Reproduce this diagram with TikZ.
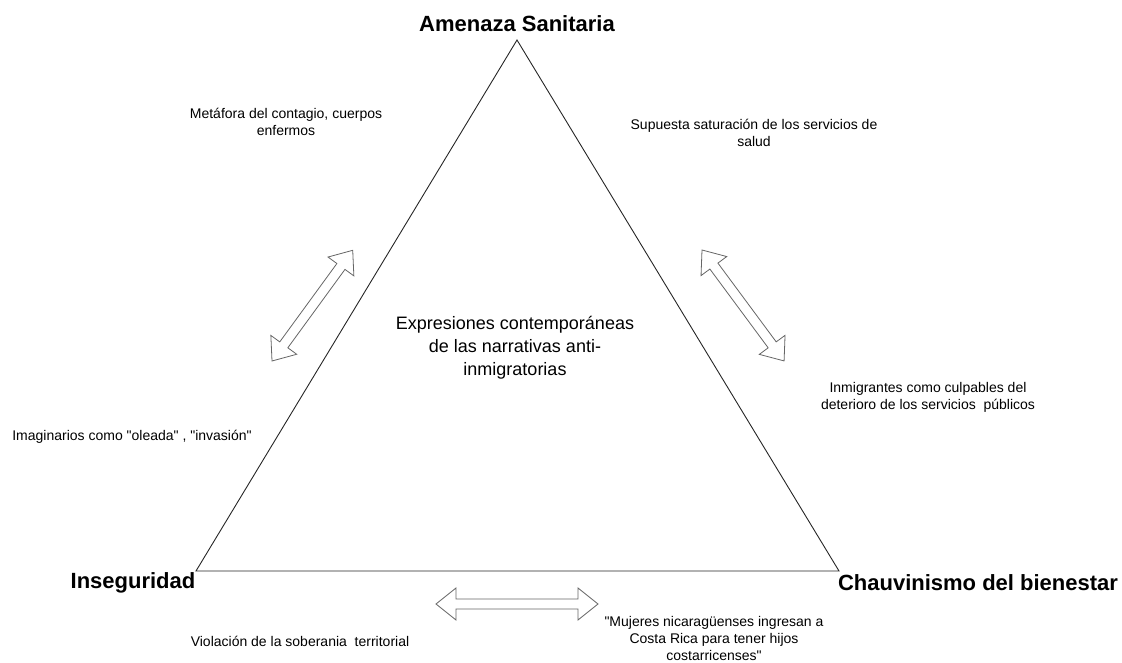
\documentclass[tikz,border=0pt]{standalone}
\usepackage{fontspec}
\setmainfont{Liberation Sans}
\usepackage{tikz}

\tikzset{
  vertice/.style={font=\fontsize{22}{26}\selectfont\bfseries, inner sep=0pt},
  centro/.style={font=\fontsize{18}{23}\selectfont, align=center, inner sep=0pt},
  nota/.style={font=\fontsize{14}{17}\selectfont, align=center, inner sep=0pt},
  flecha/.style={draw=black!60, fill=white, line width=0.8pt, line join=miter}
}
\newcommand{\qd}{\textquotedbl}

\begin{document}
\begin{tikzpicture}[x=1pt, y=-1pt]
\useasboundingbox (0,0) rectangle (1122,663);
\coordinate (vA) at (517,40);
\coordinate (vI) at (196,571);
\coordinate (vC) at (839,571);
\draw[line width=0.9pt, black!85] (vA) -- (vI) -- (vC) -- cycle;
\node[vertice] (amenaza) at (517,24) {Amenaza Sanitaria};
\node[vertice] (inseg) at (133,583) {Inseguridad};
\node[vertice] (chauv) at (978,583) {Chauvinismo del bienestar};
\node[centro] (expr) at (515,348) {Expresiones contempor\'aneas\\de las narrativas anti-\\inmigratorias};
% notas
\node[nota] (metafora) at (286,122) {Met\'afora del contagio, cuerpos\\enfermos};
\node[nota] (supuesta) at (754,133) {Supuesta saturaci\'on de los servicios de\\salud};
\node[nota] (inmig) at (928,397) {Inmigrantes como culpables del\\deterioro de los servicios\ \ p\'ublicos};
\node[nota] (imag) at (132,437) {Imaginarios como \qd oleada\qd\ , \qd invasi\'on\qd};
\node[nota] (violacion) at (300,641) {Violaci\'on de la soberania\ \ territorial};
\node[nota] (mujeres) at (714,638) {\qd Mujeres nicarag\"uenses ingresan a\\Costa Rica para tener hijos\\costarricenses\qd};
% flechas dobles
\foreach \x/\y/\a/\l in {436/604/0/162, 272/361/53.9/137, 702/250/-53.5/138}
  \draw[flecha, shift={(\x,\y)}, rotate=\a] (0,0) -- (20,16) -- (20,5) -- ({\l-20},5) -- ({\l-20},16)
    -- (\l,0) -- ({\l-20},-16) -- ({\l-20},-5) -- (20,-5) -- (20,-16) -- cycle;
\end{tikzpicture}
\end{document}
